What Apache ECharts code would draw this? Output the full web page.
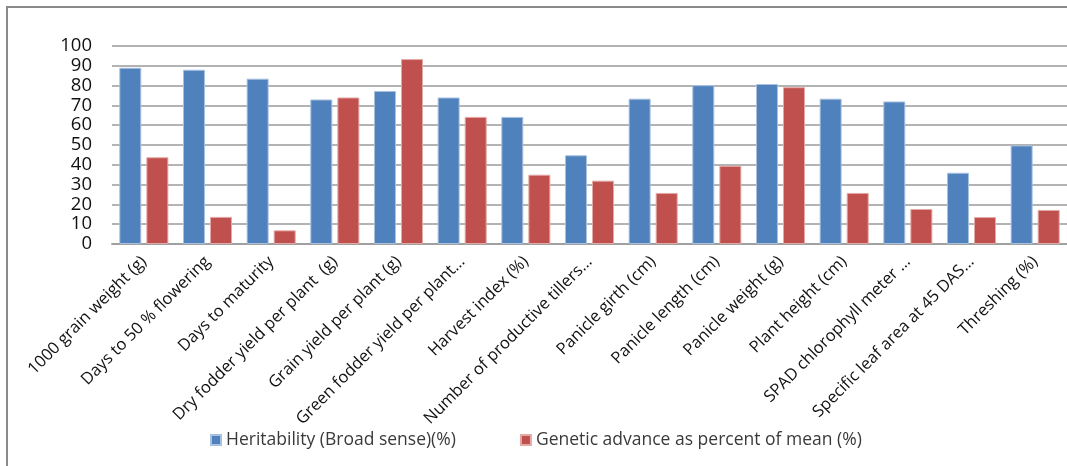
<!DOCTYPE html>
<html>
<head>
<meta charset="utf-8">
<script src="https://cdn.jsdelivr.net/npm/echarts@6/dist/echarts.min.js"></script>
<style>
html,body{margin:0;padding:0;background:#fff;}
#chart{width:1067px;height:466px;}
</style>
</head>
<body>
<div id="chart"></div>
<script>
const categories = [
  "1000 grain weight (g)",
  "Days to 50 % flowering",
  "Days to maturity",
  "Dry fodder yield per plant  (g)",
  "Grain yield per plant (g)",
  "Green fodder yield per plant…",
  "Harvest index (%)",
  "Number of productive tillers…",
  "Panicle girth (cm)",
  "Panicle length (cm)",
  "Panicle weight (g)",
  "Plant height (cm)",
  "SPAD chlorophyll meter …",
  "Specific leaf area at 45 DAS…",
  "Threshing (%)"
];
const heritability = [89, 88, 83.5, 73, 77.3, 74, 64.2, 44.8, 73.4, 80.2, 80.8, 73.4, 72, 36, 49.8];
const geneticAdvance = [43.8, 13.7, 6.9, 74, 93.4, 64.2, 35, 32, 25.8, 39.5, 79.2, 25.8, 17.7, 13.6, 17.2];
const seriesNames = ["Heritability (Broad sense)(%)", "Genetic advance as percent of mean (%)"];
const yTicks = [0, 10, 20, 30, 40, 50, 60, 70, 80, 90, 100];

const chart = echarts.init(document.getElementById('chart'));
const font = '"Open Sans", Lato, sans-serif';
chart.setOption({
  backgroundColor: '#fff',
  animation: false,
  graphic: [{
    type: 'rect',
    shape: { x: 7, y: 7, width: 1200, height: 600 },
    style: { fill: 'none', stroke: '#8a8a8a', lineWidth: 2 },
    silent: true
  }],
  grid: { left: 112, right: -10, top: 46, bottom: 222, containLabel: false },
  legend: {
    bottom: 12,
    left: 205,
    itemWidth: 10,
    itemHeight: 10,
    itemGap: 64,
    icon: 'rect',
    textStyle: { fontFamily: font, fontSize: 17.5, color: '#3a3a3a' },
    data: seriesNames
  },
  xAxis: {
    type: 'category',
    data: categories,
    axisLine: { lineStyle: { color: '#a0a0a0', width: 2 } },
    axisTick: { show: false },
    axisLabel: {
      interval: 0,
      rotate: 45,
      margin: 15,
      fontFamily: font,
      fontSize: 16.5,
      color: '#111'
    }
  },
  yAxis: {
    type: 'value',
    min: yTicks[0],
    max: yTicks[yTicks.length - 1],
    interval: 10,
    axisLine: { show: false },
    axisTick: { show: false },
    axisLabel: { fontFamily: font, fontSize: 18.5, color: '#111', margin: 20 },
    splitLine: { lineStyle: { color: '#9a9a9a', width: 1.5 } }
  },
  series: [
    {
      name: seriesNames[0],
      type: 'bar',
      data: heritability,
      barWidth: 22,
      barGap: '23%',
      itemStyle: { color: '#4F81BD', borderColor: '#a9c1e0', borderWidth: 1 }
    },
    {
      name: seriesNames[1],
      type: 'bar',
      data: geneticAdvance,
      barWidth: 22,
      barGap: '23%',
      itemStyle: { color: '#C0504D', borderColor: '#e3a9a7', borderWidth: 1 }
    }
  ]
});
</script>
</body>
</html>
